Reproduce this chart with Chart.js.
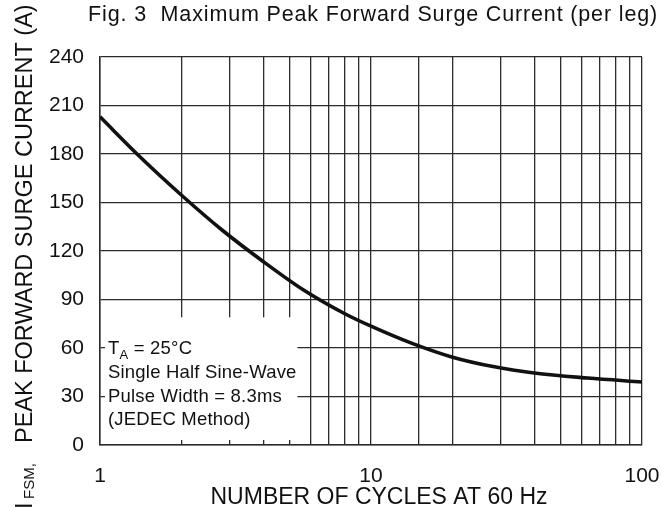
<!DOCTYPE html>
<html>
<head>
<meta charset="utf-8">
<script src="https://cdn.jsdelivr.net/npm/chart.js@4"></script>
<style>
html,body{margin:0;padding:0;background:#fff;}
canvas{display:block;}
</style>
</head>
<body>
<canvas id="c" width="662" height="507"></canvas>
<script>
// ---- data ----
const cycles  = [1, 1.41, 2, 2.82, 4, 5.62, 7.94, 10, 14.1, 20, 28.2, 40, 63, 100];
const current = [203, 178, 154.5, 133, 113.5, 96, 81.5, 73.5, 63, 54.3, 48.5, 44.5, 41.4, 39];
const xLabelValues = [1, 10, 100];
const yMin = 0, yMax = 240, yStep = 30;
const titleText = "Fig. 3  Maximum Peak Forward Surge Current (per leg)";
const xTitle = "NUMBER OF CYCLES AT 60 Hz";
const yTitleMain = "PEAK FORWARD SURGE CURRENT (A)";
const noteLines = ["Single Half Sine-Wave", "Pulse Width = 8.3ms", "(JEDEC Method)"];
const noteBox = {xMax: 5.35, yMax: 79};

const FONT = '"Liberation Sans", Arial, Helvetica, sans-serif';
const INK = '#111';
const GRID = '#2b2b2b';

const decor = {
  id: 'decor',
  beforeDatasetsDraw(chart) {
    const {ctx, scales: {x, y}} = chart;
    const x1 = x.getPixelForValue(1) + 5;
    const x2 = x.getPixelForValue(noteBox.xMax);
    const y1 = y.getPixelForValue(noteBox.yMax);
    const y2 = y.getPixelForValue(0) - 5;
    ctx.save();
    ctx.fillStyle = '#fff';
    ctx.fillRect(x1, y1, x2 - x1, y2 - y1);
    // note text
    ctx.fillStyle = INK;
    ctx.textBaseline = 'alphabetic';
    ctx.textAlign = 'left';
    if ('letterSpacing' in ctx) ctx.letterSpacing = '0.2px';
    const tx = x.getPixelForValue(1) + 8;
    let by = y1 + 37;
    ctx.font = '18.5px ' + FONT;
    ctx.fillText('T', tx, by);
    let w = ctx.measureText('T').width;
    ctx.font = '13px ' + FONT;
    ctx.fillText('A', tx + w, by + 5);
    w += ctx.measureText('A').width;
    ctx.font = '18.5px ' + FONT;
    ctx.fillText(' = 25°C', tx + w, by);
    noteLines.forEach((s, i) => {
      ctx.fillText(s, tx, by + 24 + i * 23.5);
    });
    ctx.restore();
  },
  afterDraw(chart) {
    const {ctx} = chart;
    ctx.save();
    ctx.fillStyle = INK;
    // title
    ctx.font = '21.5px ' + FONT;
    if ('letterSpacing' in ctx) ctx.letterSpacing = '0.85px';
    ctx.textAlign = 'right';
    ctx.textBaseline = 'alphabetic';
    ctx.fillText(titleText, 658, 21);
    if ('letterSpacing' in ctx) ctx.letterSpacing = '0px';
    // x title
    ctx.font = '23px ' + FONT;
    ctx.textAlign = 'center';
    ctx.fillText(xTitle, 379, 504);
    // y title (rotated)
    ctx.translate(32, 0);
    ctx.rotate(-Math.PI / 2);
    ctx.textAlign = 'left';
    ctx.font = '23.5px ' + FONT;
    ctx.fillText('I', -509, 0);
    ctx.font = '15px ' + FONT;
    ctx.fillText('FSM,', -499, 2);
    ctx.font = '23.5px ' + FONT;
    ctx.fillText(yTitleMain, -443, 0);
    ctx.restore();
  }
};

new Chart(document.getElementById('c'), {
  type: 'line',
  data: {
    datasets: [{
      data: cycles.map((c, i) => ({x: c, y: current[i]})),
      borderColor: '#111',
      borderWidth: 3.6,
      pointRadius: 0,
      fill: false,
      cubicInterpolationMode: 'monotone'
    }]
  },
  options: {
    responsive: false,
    animation: false,
    devicePixelRatio: 1,
    layout: {padding: {left: 0, right: 20, top: 57, bottom: 0}},
    plugins: {legend: {display: false}, title: {display: false}, tooltip: {enabled: false}},
    scales: {
      x: {
        type: 'logarithmic',
        min: 1, max: 100,
        afterFit(s) { s.height = 62; s.paddingLeft = 0; s.paddingRight = 0; },
        grid: {color: GRID, lineWidth: 1.3, drawTicks: false},
        border: {color: GRID, width: 1.5},
        ticks: {
          autoSkip: false, maxRotation: 0, padding: 19,
          color: INK, font: {family: FONT, size: 21},
          callback: (v) => xLabelValues.includes(v) ? String(v) : ''
        }
      },
      y: {
        type: 'linear',
        min: yMin, max: yMax,
        afterFit(s) { s.width = 100; s.paddingTop = 0; s.paddingBottom = 0; },
        grid: {color: GRID, lineWidth: 1.3, drawTicks: false},
        border: {color: GRID, width: 1.5},
        ticks: {
          stepSize: yStep, padding: 16,
          color: INK, font: {family: FONT, size: 21}
        }
      }
    }
  },
  plugins: [decor]
});
</script>
</body>
</html>
